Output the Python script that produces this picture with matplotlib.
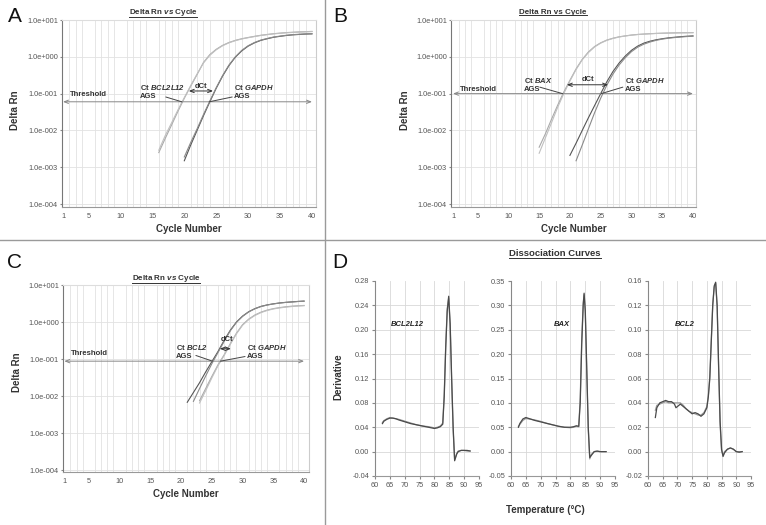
import numpy as np
import matplotlib.pyplot as plt
from matplotlib.lines import Line2D

plt.rcParams['font.family'] = ['Liberation Sans', 'DejaVu Sans']
plt.rcParams['mathtext.fontset'] = 'custom'
plt.rcParams['mathtext.rm'] = 'Liberation Sans'
plt.rcParams['mathtext.it'] = 'Liberation Sans:italic'
plt.rcParams['mathtext.bf'] = 'Liberation Sans:bold'
plt.rcParams['mathtext.bfit'] = 'Liberation Sans:italic:bold'

# ---- amplification data (Delta Rn per cycle) ----
yticks_amp = [1e-4, 1e-3, 1e-2, 1e-1, 1e0, 1e1]
ylabels_amp = ["1.0e-004", "1.0e-003", "1.0e-002", "1.0e-001", "1.0e+000", "1.0e+001"]
xticks_amp = [1, 5, 10, 15, 20, 25, 30, 35, 40]

# panel A
A_thr = 0.06
A_bcl2l12_cyc = list(range(16, 41))
A_bcl2l12_r1 = [0.0025, 0.006, 0.014, 0.033, 0.075, 0.16, 0.33, 0.7, 1.15, 1.6, 2.05, 2.45, 2.8,
                3.1, 3.35, 3.6, 3.85, 4.05, 4.25, 4.4, 4.55, 4.65, 4.75, 4.82, 4.9]
A_bcl2l12_r2 = [0.0029, 0.0072, 0.016, 0.036, 0.078, 0.165, 0.34, 0.68, 1.1, 1.55, 2.0, 2.4, 2.75,
                3.05, 3.3, 3.55, 3.8, 4.0, 4.2, 4.35, 4.5, 4.6, 4.7, 4.78, 4.85]
A_gapdh_cyc = list(range(20, 41))
A_gapdh_r1 = [0.0015, 0.004, 0.01, 0.025, 0.06, 0.14, 0.3, 0.58, 0.98, 1.45, 1.95, 2.4, 2.8, 3.1,
              3.4, 3.6, 3.8, 3.95, 4.05, 4.15, 4.2]
A_gapdh_r2 = [0.0019, 0.0047, 0.011, 0.027, 0.063, 0.145, 0.31, 0.6, 1.0, 1.5, 2.0, 2.45, 2.85, 3.15,
              3.45, 3.65, 3.85, 4.0, 4.1, 4.2, 4.25]

# panel B
B_thr = 0.1
B_bax_cyc = list(range(15, 41))
B_bax_r1 = [0.0035, 0.008, 0.02, 0.048, 0.11, 0.23, 0.47, 0.85, 1.35, 1.9, 2.4, 2.85, 3.2, 3.5,
            3.7, 3.9, 4.05, 4.15, 4.25, 4.32, 4.38, 4.43, 4.47, 4.5, 4.52, 4.55]
B_bax_r2 = [0.0024, 0.0062, 0.016, 0.042, 0.1, 0.22, 0.45, 0.83, 1.3, 1.85, 2.35, 2.8, 3.15, 3.45,
            3.68, 3.88, 4.02, 4.13, 4.22, 4.3, 4.36, 4.41, 4.45, 4.48, 4.5, 4.52]
B_gapdh_cyc1 = list(range(20, 41))
B_gapdh_r1 = [0.0021, 0.0045, 0.01, 0.022, 0.047, 0.1, 0.21, 0.4, 0.68, 1.05, 1.5, 1.95, 2.35, 2.65,
              2.9, 3.1, 3.27, 3.4, 3.52, 3.62, 3.7]
B_gapdh_cyc2 = list(range(21, 41))
B_gapdh_r2 = [0.0015, 0.004, 0.011, 0.03, 0.075, 0.17, 0.34, 0.6, 0.95, 1.38, 1.82, 2.2, 2.52, 2.8,
              3.02, 3.2, 3.33, 3.45, 3.55, 3.63]

# panel C
C_thr = 0.0877
C_bcl2_cyc1 = list(range(21, 41))
C_bcl2_r1 = [0.0068, 0.0125, 0.023, 0.045, 0.085, 0.16, 0.32, 0.6, 1.0, 1.45, 1.9, 2.3, 2.65, 2.9,
             3.1, 3.27, 3.4, 3.5, 3.6, 3.68]
C_bcl2_cyc2 = list(range(22, 41))
C_bcl2_r2 = [0.0072, 0.016, 0.035, 0.075, 0.15, 0.3, 0.58, 0.98, 1.42, 1.88, 2.28, 2.62, 2.88, 3.08,
             3.25, 3.38, 3.48, 3.58, 3.65]
C_gapdh_cyc = list(range(23, 41))
C_gapdh_r1 = [0.0075, 0.016, 0.034, 0.07, 0.13, 0.26, 0.5, 0.85, 1.2, 1.55, 1.85, 2.1, 2.3, 2.45,
              2.58, 2.68, 2.75, 2.8]
C_gapdh_r2 = [0.0065, 0.014, 0.031, 0.066, 0.125, 0.25, 0.48, 0.82, 1.17, 1.5, 1.8, 2.05, 2.25, 2.4,
              2.52, 2.62, 2.7, 2.76]

# ---- dissociation (melt) curves ----
D1_temp = [62.5, 63, 64, 65, 66, 67, 68, 70, 72, 74, 76, 78, 80, 81, 82, 82.8, 83.3, 83.8, 84.3,
           84.8, 85.3, 85.8, 86.3, 86.8, 87.5, 88, 89, 90, 91, 92]
D1_r1 = [0.046, 0.050, 0.053, 0.055, 0.055, 0.054, 0.052, 0.049, 0.046, 0.044, 0.042, 0.040, 0.038,
         0.039, 0.041, 0.045, 0.09, 0.17, 0.23, 0.255, 0.21, 0.12, 0.04, -0.015, -0.004, 0.0, 0.002,
         0.002, 0.002, 0.001]
D1_r2 = [0.048, 0.051, 0.054, 0.056, 0.055, 0.054, 0.053, 0.050, 0.047, 0.044, 0.042, 0.041, 0.039,
         0.040, 0.042, 0.047, 0.095, 0.175, 0.235, 0.252, 0.205, 0.115, 0.035, -0.013, -0.003, 0.001,
         0.002, 0.002, 0.001, 0.001]
D1_ticks = [-0.04, 0.0, 0.04, 0.08, 0.12, 0.16, 0.20, 0.24, 0.28]
D1_labels = ["-0.04", "0.00", "0.04", "0.08", "0.12", "0.16", "0.20", "0.24", "0.28"]

D2_temp = [62.5, 63, 64, 65, 66, 68, 70, 72, 74, 76, 78, 80, 81, 82, 82.8, 83.3, 83.8, 84.3, 84.6,
           85, 85.5, 86, 86.5, 87, 88, 89, 90, 91, 92]
D2_r1 = [0.050, 0.058, 0.067, 0.070, 0.068, 0.064, 0.061, 0.058, 0.055, 0.052, 0.050, 0.050, 0.051,
         0.053, 0.052, 0.10, 0.22, 0.30, 0.325, 0.29, 0.17, 0.05, -0.012, -0.008, 0.0, 0.001, 0.0,
         0.0, 0.0]
D2_r2 = [0.052, 0.056, 0.064, 0.068, 0.067, 0.065, 0.062, 0.058, 0.055, 0.052, 0.050, 0.049, 0.050,
         0.052, 0.051, 0.11, 0.23, 0.305, 0.322, 0.285, 0.16, 0.045, -0.015, -0.006, 0.0, 0.001, 0.0,
         0.0, 0.0]
D2_ticks = [-0.05, 0.0, 0.05, 0.10, 0.15, 0.20, 0.25, 0.30, 0.35]
D2_labels = ["-0.05", "0.00", "0.05", "0.10", "0.15", "0.20", "0.25", "0.30", "0.35"]

D3_temp = [62.5, 63, 64, 65, 66, 67, 68, 69, 69.5, 70, 71, 72, 73, 74, 75, 76, 77, 78, 79, 80, 80.5,
           81, 81.5, 82, 82.5, 83, 83.5, 84, 84.5, 85, 85.5, 86, 87, 88, 89, 90, 91, 92]
D3_r1 = [0.028, 0.036, 0.040, 0.041, 0.042, 0.041, 0.041, 0.039, 0.036, 0.037, 0.039, 0.037, 0.035,
         0.033, 0.031, 0.032, 0.031, 0.029, 0.031, 0.036, 0.045, 0.06, 0.09, 0.12, 0.136, 0.139,
         0.12, 0.07, 0.025, 0.002, -0.004, -0.001, 0.002, 0.003, 0.002, 0.0, -0.0005, 0.0]
D3_r2 = [0.034, 0.038, 0.039, 0.040, 0.041, 0.040, 0.040, 0.040, 0.040, 0.040, 0.040, 0.038, 0.035,
         0.033, 0.032, 0.031, 0.030, 0.030, 0.032, 0.037, 0.046, 0.062, 0.092, 0.121, 0.135, 0.138,
         0.118, 0.068, 0.022, 0.001, -0.003, 0.0, 0.002, 0.003, 0.002, 0.0, 0.0, 0.0]
D3_ticks = [-0.02, 0.0, 0.02, 0.04, 0.06, 0.08, 0.10, 0.12, 0.14]
D3_labels = ["-0.02", "0.00", "0.02", "0.04", "0.06", "0.08", "0.10", "0.12", "0.16"]
temp_ticks = [60, 65, 70, 75, 80, 85, 90, 95]

W, H = 766, 525
fig = plt.figure(figsize=(W / 100, H / 100), dpi=100)


def rect(l, t, r, b):
    return [l / W, 1 - b / H, (r - l) / W, (b - t) / H]


def px(x, y):
    return x / W, 1 - y / H


TICK_C = '#555555'
GRID_C = '#e2e2e2'
LAB_C = '#333333'


def amp_axes(box, xlim, ylow):
    ax = fig.add_axes(box)
    ax.set_yscale('log')
    ax.set_xlim(*xlim)
    ax.set_ylim(ylow, 10)
    ax.set_yticks(yticks_amp)
    ax.set_yticklabels(ylabels_amp)
    ax.minorticks_off()
    ax.set_xticks(xticks_amp)
    ax.set_xticks(range(1, 41), minor=True)
    ax.tick_params(which='both', length=0, labelsize=5.3, colors=TICK_C, pad=4)
    ax.tick_params(axis='y', length=1.5, color='#888888', pad=1.5)
    ax.grid(True, which='minor', axis='x', color=GRID_C, lw=0.6)
    ax.grid(True, which='major', axis='y', color=GRID_C, lw=0.6)
    ax.set_axisbelow(True)
    ax.spines['left'].set_color('#777777')
    ax.spines['bottom'].set_color('#999999')
    ax.spines['top'].set_color('#dddddd')
    ax.spines['right'].set_color('#cccccc')
    for s in ax.spines.values():
        s.set_linewidth(0.8)
    ax.set_xlabel('Cycle Number', fontsize=7, fontweight='bold', color=LAB_C, labelpad=3)
    return ax


def threshold(ax, thr, ytext):
    ax.annotate('', xy=(40, thr), xytext=(1, thr),
                arrowprops=dict(arrowstyle='<->,head_length=0.3,head_width=0.12',
                                color='#888888', lw=0.7, shrinkA=0, shrinkB=0))
    ax.text(2.1, ytext, 'Threshold', fontsize=5.5, fontweight='bold', color=LAB_C, va='center')


def ct_label(ax, x, y, gene, xy_line, xy_end):
    ax.text(x, y, r'Ct $\mathbfit{%s}$' % gene + '\nAGS', fontsize=5.5, fontweight='bold',
            color=LAB_C, va='top', ha='left', linespacing=1.1)
    ax.annotate('', xy=xy_end, xytext=xy_line,
                arrowprops=dict(arrowstyle='-', color='#444444', lw=0.7, shrinkA=0, shrinkB=0))


def dct(ax, x0, x1, y, xt, yt):
    ax.annotate('', xy=(x1, y), xytext=(x0, y),
                arrowprops=dict(arrowstyle='<->,head_length=0.3,head_width=0.12',
                                color=LAB_C, lw=0.7, shrinkA=0, shrinkB=0))
    ax.text(xt, yt, 'dCt', fontsize=5.5, fontweight='bold', color=LAB_C, ha='center', va='center')


light = ['#a9a9a9', '#c0c0c0']
dark = ['#555555', '#8a8a8a']

# ---- panel A ----
axA = amp_axes(rect(62, 20, 316, 207), (0.84, 40.63), 10 ** -4.08)
axA.plot(A_bcl2l12_cyc, A_bcl2l12_r1, color=light[0], lw=0.8)
axA.plot(A_bcl2l12_cyc, A_bcl2l12_r2, color=light[1], lw=0.8)
axA.plot(A_gapdh_cyc, A_gapdh_r1, color=dark[0], lw=0.8)
axA.plot(A_gapdh_cyc, A_gapdh_r2, color=dark[1], lw=0.8)
threshold(axA, A_thr, 0.095)
ct_label(axA, 13.0, 0.19, 'BCL2L12', (17.1, 0.081), (19.6, A_thr))
ct_label(axA, 27.8, 0.19, 'GAPDH', (27.5, 0.081), (23.9, A_thr))
dct(axA, 20.7, 24.5, 0.118, 22.6, 0.16)

# ---- panel B ----
axB = amp_axes(rect(451, 20, 696, 207), (0.675, 40.49), 10 ** -4.08)
axB.plot(B_bax_cyc, B_bax_r1, color=light[0], lw=0.8)
axB.plot(B_bax_cyc, B_bax_r2, color=light[1], lw=0.8)
axB.plot(B_gapdh_cyc1, B_gapdh_r1, color=dark[0], lw=0.8)
axB.plot(B_gapdh_cyc2, B_gapdh_r2, color=dark[1], lw=0.8)
threshold(axB, B_thr, 0.13)
ct_label(axB, 12.5, 0.30, 'BAX', (15.1, 0.15), (18.8, B_thr))
ct_label(axB, 29.0, 0.30, 'GAPDH', (28.6, 0.15), (25.1, B_thr))
dct(axB, 19.5, 26.2, 0.174, 22.9, 0.24)

# ---- panel C ----
axC = amp_axes(rect(63, 285, 309, 472), (0.79, 40.8), 10 ** -4.05)
axC.plot(C_gapdh_cyc, C_gapdh_r1, color=light[0], lw=0.8)
axC.plot(C_gapdh_cyc, C_gapdh_r2, color=light[1], lw=0.8)
axC.plot(C_bcl2_cyc1, C_bcl2_r1, color=dark[0], lw=0.8)
axC.plot(C_bcl2_cyc2, C_bcl2_r2, color=dark[1], lw=0.8)
threshold(axC, C_thr, 0.138)
ct_label(axC, 19.1, 0.27, 'BCL2', (22.4, 0.125), (25.1, C_thr))
ct_label(axC, 30.7, 0.27, 'GAPDH', (30.4, 0.117), (26.4, C_thr))
dct(axC, 26.3, 28.1, 0.19, 27.4, 0.34)

for x, y in [(15, 110), (405, 110), (17, 372)]:
    fig.text(*px(x, y), 'Delta Rn', fontsize=7, fontweight='bold', color=LAB_C,
             rotation=90, ha='center', va='center')

# ---- panel D ----
D_sets = [
    (rect(375, 281, 479, 476), D1_temp, D1_r1, D1_r2, D1_ticks, D1_labels, 'BCL2L12', 71),
    (rect(511, 281, 615, 476), D2_temp, D2_r1, D2_r2, D2_ticks, D2_labels, 'BAX', 77),
    (rect(648, 281, 751, 476), D3_temp, D3_r1, D3_r2, D3_ticks, D3_labels, 'BCL2', 72.5),
]
for box, t, r1, r2, ticks, labels, gene, gx in D_sets:
    ax = fig.add_axes(box)
    ax.plot(t, r2, color='#9a9a9a', lw=0.9)
    ax.plot(t, r1, color='#4a4a4a', lw=0.9)
    ax.set_xlim(60, 95)
    ax.set_ylim(ticks[0], ticks[-1])
    ax.set_xticks(temp_ticks)
    ax.set_yticks(ticks)
    ax.set_yticklabels(labels)
    ax.grid(True, color='#d8d8d8', lw=0.6)
    ax.get_ygridlines()[-1].set_visible(False)
    ax.set_axisbelow(True)
    ax.tick_params(length=2, labelsize=5.3, colors=TICK_C, color='#888888', pad=2)
    ax.spines['top'].set_visible(False)
    ax.spines['right'].set_visible(False)
    ax.spines['left'].set_color('#888888')
    ax.spines['bottom'].set_color('#999999')
    ytop = ticks[-1] - (ticks[-1] - ticks[0]) * 0.225
    ax.text(gx, ytop, gene, fontsize=5.5, fontweight='bold', fontstyle='italic',
            color='#222222', ha='center', va='center')

fig.text(*px(338, 377), 'Derivative', fontsize=7, fontweight='bold', color=LAB_C,
         rotation=90, ha='center', va='center')
fig.text(*px(545, 510), 'Temperature (°C)', fontsize=7, fontweight='bold', color=LAB_C,
         ha='center', va='center')

# ---- titles ----
titles = [
    fig.text(*px(163, 12), r'Delta Rn $\mathbfit{vs}$ Cycle', fontsize=5.8, fontweight='bold',
             color=LAB_C, ha='center', va='center'),
    fig.text(*px(553, 12), 'Delta Rn vs Cycle', fontsize=5.8, fontweight='bold',
             color=LAB_C, ha='center', va='center'),
    fig.text(*px(166, 278), r'Delta Rn $\mathbfit{vs}$ Cycle', fontsize=5.8, fontweight='bold',
             color=LAB_C, ha='center', va='center'),
    fig.text(*px(555, 254), 'Dissociation Curves', fontsize=6.8, fontweight='bold',
             color=LAB_C, ha='center', va='center'),
]

# ---- panel letters ----
for letter, (x, y) in zip('ABCD', [(15, 17), (340, 17), (15, 263), (340, 263)]):
    fig.text(*px(x, y), letter, fontsize=15, color='#111111', ha='center', va='center')

# ---- dividers ----
fig.add_artist(Line2D([325 / W, 325 / W], [0, 1], color='#9a9a9a', lw=1.0))
fig.add_artist(Line2D([0, 1], [1 - 240 / H, 1 - 240 / H], color='#9a9a9a', lw=1.0))

# underline titles
fig.canvas.draw()
inv = fig.transFigure.inverted()
for t in titles:
    bb = t.get_window_extent()
    (x0, y0), (x1, _) = inv.transform([(bb.x0, bb.y0 + 0.5), (bb.x1, bb.y0)])
    fig.add_artist(Line2D([x0, x1], [y0, y0], color=LAB_C, lw=0.7))

fig.savefig('out.png', dpi=100)
